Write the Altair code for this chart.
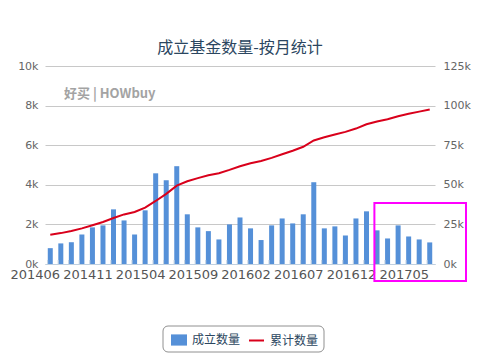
import altair as alt
import pandas as pd

months = [f"{y}{m:02d}" for y, m in
          [(2014, m) for m in range(6, 13)] + [(2015, m) for m in range(1, 13)] +
          [(2016, m) for m in range(1, 13)] + [(2017, m) for m in range(1, 7)]]

counts = [800, 1040, 1100, 1490, 1850, 1950, 2760, 2200, 1490, 2710,
          4580, 4230, 4940, 2510, 1850, 1660, 1240, 2000, 2350, 1800,
          1210, 1950, 2300, 2050, 2510, 4130, 1800, 1900, 1440, 2300,
          2660, 1700, 1290, 1950, 1390, 1240, 1090]

cumulative = [18500, 19500, 20800, 22500, 24500, 26500, 29000, 31300, 32800, 35600,
              39800, 44300, 49500, 52200, 54200, 56000, 57300, 59400, 61700, 63600,
              65000, 67000, 69300, 71500, 74000, 78000, 80000, 81800, 83400, 85500,
              88200, 90000, 91400, 93300, 94800, 96200, 97600]

label_months = months[::5]
bar_name = "成立数量"
line_name = "累计数量"

df = pd.DataFrame({"month": months, "count": counts, "cum": cumulative,
                   "s1": bar_name, "s2": line_name})

W, H = 390, 198
CJK = "Noto Sans CJK SC"
TXT = "#2b4660"

xscale = alt.Scale(domain=months, paddingInner=0.5, paddingOuter=0.25)
xaxis = alt.Axis(values=label_months, labelAngle=0, labelOffset=-15, ticks=False,
                 domainColor="#C0D0E0", labelColor="#555555", labelFont="DejaVu Sans",
                 labelFontSize=13, labelPadding=4, title=None, grid=False)

base = alt.Chart(df)

bars = base.mark_bar(size=5).encode(
    x=alt.X("month:O", scale=xscale, axis=xaxis),
    y=alt.Y("count:Q", scale=alt.Scale(domain=[0, 10000], nice=False),
            axis=alt.Axis(values=[0, 2000, 4000, 6000, 8000, 10000],
                          labelExpr="datum.value/1000 + 'k'", title=None,
                          domain=False, ticks=False, gridColor="#C8C8C8",
                          labelColor="#666666", labelFont="DejaVu Sans",
                          labelFontSize=11, labelPadding=7, orient="left")),
    fill=alt.Fill("s1:N", scale=alt.Scale(domain=[bar_name], range=["#5590d8"]),
                  legend=alt.Legend(title=None, orient="none", legendX=126, legendY=266,
                                    symbolType="M-1,-0.7L1,-0.7L1,0.7L-1,0.7Z",
                                    symbolSize=256, symbolStrokeWidth=0,
                                    labelFont=CJK, labelFontSize=12, labelColor=TXT,
                                    labelOffset=5)),
)

line = base.mark_line(strokeWidth=2).encode(
    x=alt.X("month:O", scale=xscale, axis=xaxis),
    y=alt.Y("cum:Q", scale=alt.Scale(domain=[0, 125000], nice=False),
            axis=alt.Axis(values=[0, 25000, 50000, 75000, 100000, 125000],
                          labelExpr="datum.value/1000 + 'k'", title=None,
                          domain=False, ticks=False, grid=False,
                          labelColor="#666666", labelFont="DejaVu Sans",
                          labelFontSize=11, labelPadding=8, orient="right")),
    stroke=alt.Stroke("s2:N", scale=alt.Scale(domain=[line_name], range=["#d9001b"]),
                      legend=alt.Legend(title=None, orient="none", legendX=203, legendY=266,
                                        symbolType="stroke", symbolSize=225,
                                        symbolStrokeWidth=2,
                                        labelFont=CJK, labelFontSize=12, labelColor=TXT,
                                        labelOffset=5)),
)

ticks = base.mark_rule(color="#C0D0E0", strokeWidth=1).encode(
    x=alt.X("month:O", scale=xscale, axis=xaxis, bandPosition=0),
    y=alt.value(H - 4), y2=alt.value(H),
)

highlight = alt.Chart(pd.DataFrame({"month": ["201701"]})).mark_rect(
    fillOpacity=0, stroke="#ff00ff", strokeWidth=2
).encode(
    x=alt.X("month:O", scale=xscale, axis=xaxis, bandPosition=0),
    x2=alt.value(421), y=alt.value(137), y2=alt.value(215),
)

legend_box = alt.Chart(pd.DataFrame({"k": [0]})).mark_rect(
    fillOpacity=0, stroke="#909090", strokeWidth=1, cornerRadius=5
).encode(x=alt.value(118), x2=alt.value(279), y=alt.value(260), y2=alt.value(286))

watermark = alt.Chart(pd.DataFrame({"t": ["好买 | HOWbuy"]})).mark_text(
    font=CJK, fontSize=13, fontWeight="bold", color="#9a9a9a", align="left",
    baseline="middle", opacity=0.9
).encode(text="t:N", x=alt.value(19), y=alt.value(28))

chart = alt.layer(watermark, bars, ticks, line, highlight, legend_box).resolve_scale(
    y="independent", fill="independent", stroke="independent"
).properties(
    width=W, height=H,
    title=alt.TitleParams("成立基金数量-按月统计", font=CJK, fontSize=16,
                          fontWeight="normal", color=TXT, anchor="middle", offset=4),
    padding={"left": 45, "top": 66, "right": 51, "bottom": 93},
    autosize="none",
).configure_view(stroke=None)

chart.save("out.html", embed_options={"renderer": "svg", "actions": False})
